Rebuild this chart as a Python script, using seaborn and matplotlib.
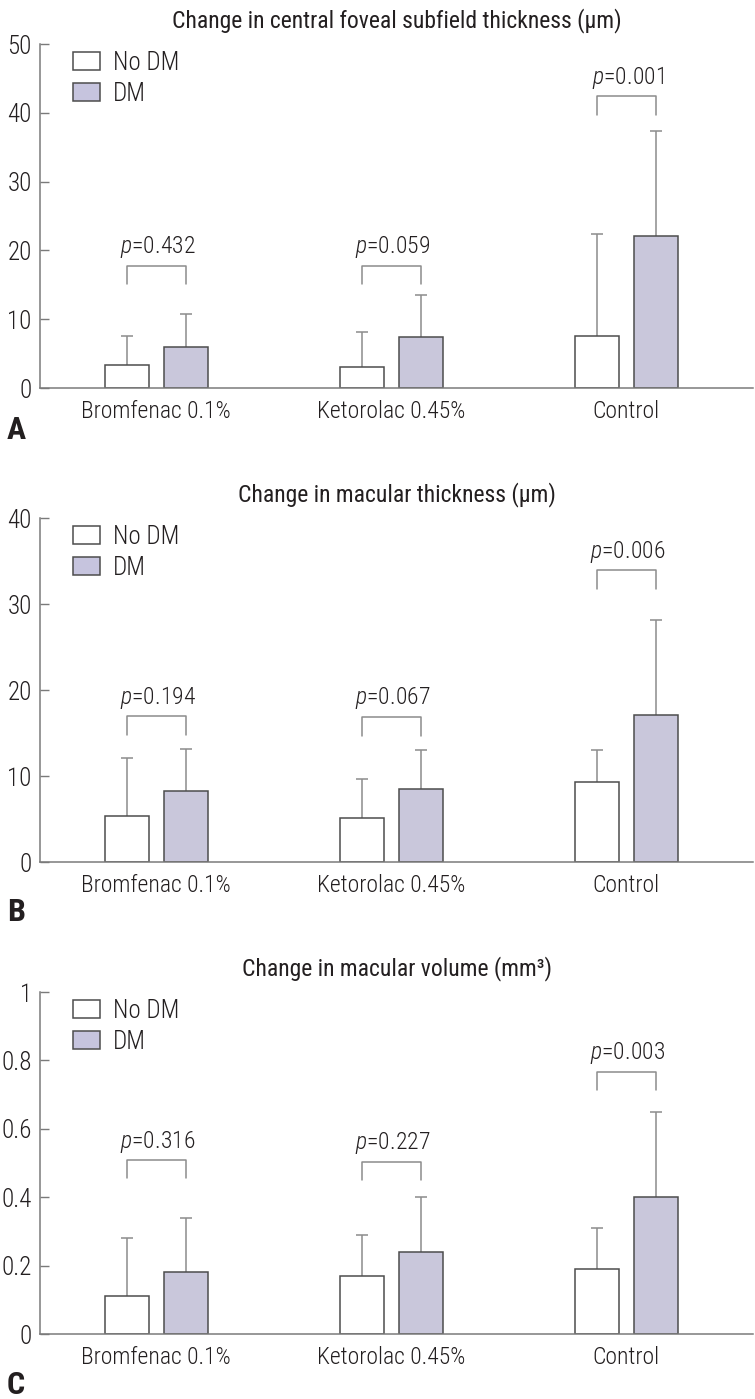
import matplotlib.pyplot as plt
import numpy as np
import pandas as pd
import seaborn as sns
from matplotlib.patches import Patch
from matplotlib.ticker import FuncFormatter

groups = ['Bromfenac 0.1%', 'Ketorolac 0.45%', 'Control']
status = ['No DM', 'DM']
letters = ['A', 'B', 'C']
titles = ['Change in central foveal subfield thickness (\u00b5m)',
          'Change in macular thickness (\u00b5m)',
          'Change in macular volume (mm\u00b3)']

# mean / SD
cfst_nodm = [3.4, 3.1, 7.5]
cfst_nodm_sd = [4.2, 5.1, 14.9]
cfst_dm = [6.0, 7.4, 22.1]
cfst_dm_sd = [4.8, 6.1, 15.3]

mt_nodm = [5.3, 5.1, 9.3]
mt_nodm_sd = [6.8, 4.6, 3.7]
mt_dm = [8.3, 8.5, 17.1]
mt_dm_sd = [4.8, 4.5, 11.0]

mv_nodm = [0.11, 0.17, 0.19]
mv_nodm_sd = [0.17, 0.12, 0.12]
mv_dm = [0.18, 0.24, 0.40]
mv_dm_sd = [0.16, 0.16, 0.25]

cfst_p = ['0.432', '0.059', '0.001']
mt_p = ['0.194', '0.067', '0.006']
mv_p = ['0.316', '0.227', '0.003']

# bracket top and leg end
cfst_br = [17.8, 17.8, 42.4]
cfst_leg = [15.1, 15.1, 39.7]
mt_br = [17.0, 16.9, 33.9]
mt_leg = [14.8, 14.7, 31.7]
mv_br = [0.508, 0.503, 0.767]
mv_leg = [0.455, 0.450, 0.714]

ymax = [50, 40, 1]
ystep = [10, 10, 0.2]

dm_color = '#c6c4de'
edge = '#4d4d4d'
grey = '#8c8c8c'
ink = '#231f20'

sns.set_style('white')
plt.rcParams['font.family'] = ['Roboto Condensed', 'Archivo Narrow', 'DejaVu Sans']
plt.rcParams['font.weight'] = 'light'
plt.rcParams['mathtext.fontset'] = 'custom'
plt.rcParams['mathtext.rm'] = 'Roboto Condensed:light'
plt.rcParams['mathtext.it'] = 'Roboto Condensed:italic:light'
plt.rcParams['text.color'] = ink
fs = 17

panels = [
    (cfst_nodm, cfst_nodm_sd, cfst_dm, cfst_dm_sd, cfst_p, cfst_br, cfst_leg),
    (mt_nodm, mt_nodm_sd, mt_dm, mt_dm_sd, mt_p, mt_br, mt_leg),
    (mv_nodm, mv_nodm_sd, mv_dm, mv_dm_sd, mv_p, mv_br, mv_leg),
]

W, H = 755, 1399
fig = plt.figure(figsize=(W / 100, H / 100), dpi=100)
ax_top = [44, 518, 992]
ax_bot = [388, 862, 1334]
letter_y = [430, 912, 1385]

for i, (nd, nd_sd, d, d_sd, pv, br, leg) in enumerate(panels):
    ax = fig.add_axes([40 / W, 1 - ax_bot[i] / H, 713 / W, (ax_bot[i] - ax_top[i]) / H])
    df = pd.DataFrame({
        'group': groups * 2,
        'status': ['No DM'] * 3 + ['DM'] * 3,
        'value': nd + d,
    })
    sns.barplot(data=df, x='group', y='value', hue='status', order=groups,
                hue_order=status, palette={'No DM': 'white', 'DM': dm_color},
                width=0.502, gap=0.254, edgecolor=edge, linewidth=1.1,
                errorbar=None, legend=False, ax=ax, zorder=2)

    centers = {}
    for cont, st in zip(ax.containers, status):
        xs = [p.get_x() + p.get_width() / 2 for p in cont.patches]
        centers[st] = xs
        means = nd if st == 'No DM' else d
        sds = nd_sd if st == 'No DM' else d_sd
        _, caps, _ = ax.errorbar(xs, means, yerr=[np.zeros(3), sds], fmt='none',
                                 ecolor=grey, elinewidth=1.1, capsize=4,
                                 capthick=1.1, zorder=1)
        caps[0].set_visible(False)

    for j in range(3):
        x0, x1 = centers['No DM'][j], centers['DM'][j]
        ax.plot([x0, x0, x1, x1], [leg[j], br[j], br[j], leg[j]],
                color=grey, lw=1.1, clip_on=False)
        ax.annotate(r'$\it{p}$=' + pv[j], ((x0 + x1) / 2, br[j]),
                    xytext=(1, 13.5), textcoords='offset points',
                    ha='center', va='center', fontsize=fs)

    ax.set_xlim(-0.494, 2.54)
    ax.set_ylim(0, ymax[i])
    ax.set_yticks(np.arange(0, ymax[i] + ystep[i] / 2, ystep[i]))
    ax.yaxis.set_major_formatter(FuncFormatter(lambda v, _: f'{v:g}'))
    ax.set_xlabel('')
    ax.set_ylabel('')
    sns.despine(ax=ax)
    for s in ['left', 'bottom']:
        ax.spines[s].set_color('#7a7a7a')
        ax.spines[s].set_linewidth(1.1)
    ax.tick_params(axis='y', direction='in', length=6.5, width=1.0,
                   color='#7a7a7a', pad=6, labelsize=fs + 1, labelcolor=ink, left=True)
    ax.tick_params(axis='x', length=0, pad=8.5, labelsize=fs, labelcolor=ink)
    ax.set_title(titles[i], fontsize=fs, pad=12)

    handles = [Patch(facecolor='white', edgecolor=edge, lw=1.1, label='No DM'),
               Patch(facecolor=dm_color, edgecolor=edge, lw=1.1, label='DM')]
    ax.legend(handles=handles, loc='upper left', bbox_to_anchor=(0.046, 0.98),
              frameon=False, borderpad=0, borderaxespad=0, handlelength=1.1,
              handleheight=0.72, handletextpad=0.5, labelspacing=0.28, fontsize=fs + 1)

    fig.text(7 / W, 1 - letter_y[i] / H, letters[i], fontsize=23, weight='bold',
             ha='left', va='center')

fig.savefig('out.png', dpi=100)
